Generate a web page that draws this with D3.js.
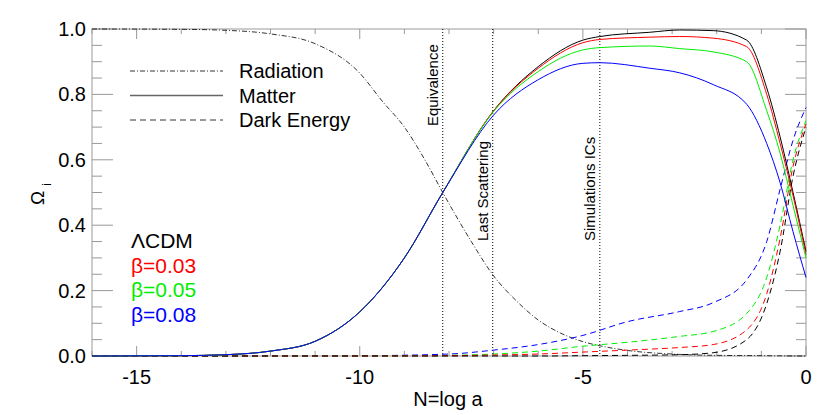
<!DOCTYPE html>
<html><head><meta charset="utf-8">
<script src="https://cdn.jsdelivr.net/npm/d3@7"></script>
<style>body{margin:0;background:#fff;} text{font-family:"Liberation Sans",Arial,sans-serif;}</style>
</head><body><div id="chart"></div>
<script>
// e-folds N = log a
var radN   = [-16, -14, -13, -12, -11, -10, -9.5, -9, -8.5, -8.14, -7.5, -7, -6.5, -6, -5.5, -5, -4.5, -4, -3, -2, -1, 0];
var radVal = [1.0, 0.999, 0.996, 0.985, 0.955, 0.865, 0.78, 0.70, 0.59, 0.50, 0.35, 0.245, 0.17, 0.11, 0.07, 0.044, 0.028, 0.017, 0.006, 0.002, 0.001, 0];

var matN = [-16, -14, -13, -12, -11, -10, -9, -8.14, -7, -6, -5, -4.62, -3.5, -2.83, -2.08, -1.33, -0.88, -0.58, -0.29, 0];
var matter = {
  lcdm: [0, 0.001, 0.004, 0.015, 0.045, 0.135, 0.30, 0.50, 0.75, 0.885, 0.966, 0.977, 0.99, 0.997, 0.995, 0.966, 0.82, 0.67, 0.50, 0.32],
  b003: [0, 0.001, 0.004, 0.015, 0.045, 0.135, 0.30, 0.50, 0.75, 0.88, 0.958, 0.968, 0.975, 0.977, 0.972, 0.946, 0.80, 0.65, 0.49, 0.31],
  b005: [0, 0.001, 0.004, 0.015, 0.045, 0.135, 0.30, 0.50, 0.748, 0.87, 0.936, 0.943, 0.948, 0.94, 0.93, 0.90, 0.75, 0.62, 0.46, 0.30],
  b008: [0, 0.001, 0.004, 0.015, 0.045, 0.135, 0.30, 0.50, 0.737, 0.845, 0.895, 0.897, 0.88, 0.866, 0.83, 0.77, 0.65, 0.53, 0.38, 0.24]
};
var deN = [-16, -10, -8, -7, -6, -5, -4, -2.83, -2.08, -1.33, -0.88, -0.58, -0.29, 0];
var darkEnergy = {
  lcdm: [0, 0, 0, 0, 0, 0.001, 0.002, 0.004, 0.01, 0.05, 0.16, 0.32, 0.55, 0.70],
  b003: [0, 0, 0.001, 0.003, 0.006, 0.012, 0.018, 0.026, 0.035, 0.08, 0.19, 0.36, 0.58, 0.71],
  b005: [0, 0, 0.002, 0.006, 0.015, 0.03, 0.042, 0.06, 0.075, 0.13, 0.24, 0.40, 0.60, 0.72],
  b008: [0, 0.001, 0.006, 0.018, 0.035, 0.063, 0.105, 0.136, 0.163, 0.233, 0.35, 0.51, 0.66, 0.76]
};
var models = ["lcdm", "b003", "b005", "b008"];
var modelLabels = ["\u039BCDM", "\u03B2=0.03", "\u03B2=0.05", "\u03B2=0.08"];
var modelColors = ["#000000", "#ff0000", "#00ee00", "#0000ff"];
var epochs = [{n: -8.14, label: "Equivalence"}, {n: -7.02, label: "Last Scattering"}, {n: -4.62, label: "Simulations ICs"}];
var xTicks = [-15, -10, -5, 0];
var yTicks = [0, 0.2, 0.4, 0.6, 0.8, 1.0];

var width = 830, height = 415;
var pl = 92, pr = 806, pt = 29, pb = 356;

var svg = d3.select('#chart').append('svg').attr('width', width).attr('height', height);
var x = d3.scaleLinear().domain([-16, 0]).range([pl, pr]);
var y = d3.scaleLinear().domain([0, 1]).range([pb, pt]);

// ticks (gray, inside)
var g = svg.append('g').attr('stroke', '#999').attr('stroke-width', 1);
d3.range(-16, 0.01, 1).forEach(function(v) {
  var len = v % 5 === 0 ? 10 : 5;
  g.append('line').attr('x1', x(v)).attr('x2', x(v)).attr('y1', pb).attr('y2', pb - len);
  g.append('line').attr('x1', x(v)).attr('x2', x(v)).attr('y1', pt).attr('y2', pt + len);
});
d3.range(0, 1.001, 0.05).forEach(function(v) {
  var major = Math.abs(v * 5 - Math.round(v * 5)) < 1e-6;
  var len = major ? 21 : 10;
  g.append('line').attr('y1', y(v)).attr('y2', y(v)).attr('x1', pl).attr('x2', pl + len);
  g.append('line').attr('y1', y(v)).attr('y2', y(v)).attr('x1', pr).attr('x2', pr - len);
});
svg.append('rect').attr('x', pl).attr('y', pt).attr('width', pr - pl).attr('height', pb - pt)
  .attr('fill', 'none').attr('stroke', '#999');

svg.selectAll('.xt').data(xTicks).enter().append('text')
  .attr('x', function(d) { return x(d); }).attr('y', 384).attr('text-anchor', 'middle')
  .attr('font-size', 20).text(function(d) { return d; });
svg.selectAll('.yt').data(yTicks).enter().append('text')
  .attr('x', 86).attr('y', function(d) { return y(d) + 7; }).attr('text-anchor', 'end')
  .attr('font-size', 20).text(function(d) { return d.toFixed(1); });
svg.append('text').attr('x', 448).attr('y', 406).attr('text-anchor', 'middle').attr('font-size', 20).text('N=log a');
svg.append('text').attr('transform', 'translate(44,205) rotate(-90)').attr('font-size', 19)
  .html('\u03A9<tspan dx="5" dy="7" font-size="12">i</tspan>');

var plot = svg.append('g');
// epoch lines
epochs.forEach(function(e) {
  plot.append('line').attr('x1', x(e.n)).attr('x2', x(e.n)).attr('y1', pt).attr('y2', pb)
    .attr('stroke', '#000').attr('stroke-dasharray', '1,2');
});
var epochBase = [126, 241, 241];
epochs.forEach(function(e, i) {
  svg.append('text').attr('transform', 'translate(' + (x(e.n) - 5) + ',' + epochBase[i] + ') rotate(-90)')
    .attr('font-size', 15).text(e.label);
});

function lineFor(xs) {
  return d3.line().x(function(d, i) { return x(xs[i]); }).y(function(d) { return y(d); }).curve(d3.curveMonotoneX);
}
plot.append('path').attr('d', lineFor(radN)(radVal)).attr('fill', 'none').attr('stroke', '#000')
  .attr('stroke-width', 0.8).attr('stroke-dasharray', '5,2,1,2');
models.slice().reverse().forEach(function(m) {
  var c = modelColors[models.indexOf(m)];
  plot.append('path').attr('d', lineFor(deN)(darkEnergy[m])).attr('fill', 'none').attr('stroke', c)
    .attr('stroke-width', 1).attr('stroke-dasharray', '6,4');
});
models.forEach(function(m, i) {
  plot.append('path').attr('d', lineFor(matN)(matter[m])).attr('fill', 'none').attr('stroke', modelColors[i]).attr('stroke-width', 1);
});

// legend
var leg = [{t: 'Radiation', d: '5,2,1,2'}, {t: 'Matter', d: null}, {t: 'Dark Energy', d: '6,4'}];
leg.forEach(function(l, i) {
  var yy = 71 + i * 24.5;
  svg.append('line').attr('x1', 130).attr('x2', 223).attr('y1', yy).attr('y2', yy)
    .attr('stroke', l.d ? '#000' : '#666').attr('stroke-width', l.d ? 0.8 : 1.5).attr('stroke-dasharray', l.d);
  svg.append('text').attr('x', 239).attr('y', yy + 7).attr('font-size', 20).text(l.t);
});
modelLabels.forEach(function(t, i) {
  svg.append('text').attr('x', 131).attr('y', 248 + i * 24.6).attr('font-size', 21).attr('fill', modelColors[i]).text(t);
});
</script></body></html>
